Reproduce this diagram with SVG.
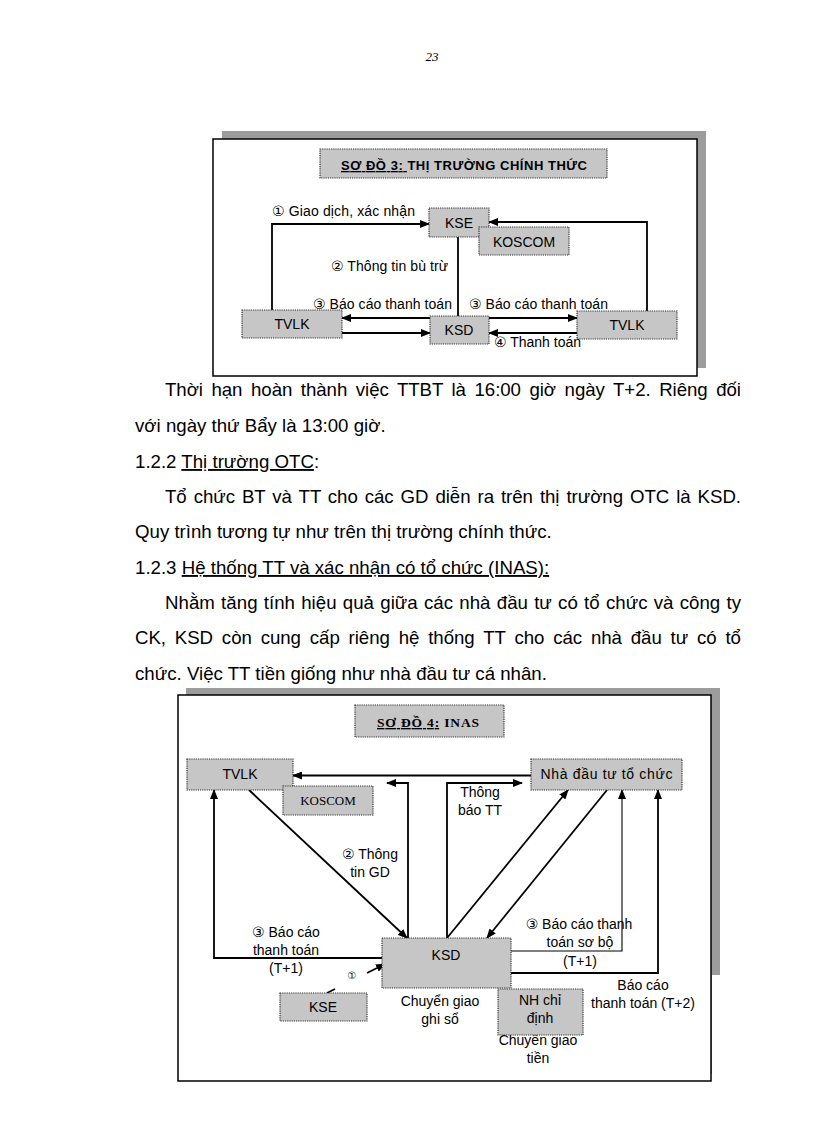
<svg xmlns="http://www.w3.org/2000/svg" width="816" height="1123" viewBox="0 0 816 1123">
<style>
.bg{fill:#ffffff}
.shadow{fill:#9c9c9c}
.frame{fill:#ffffff;stroke:#000;stroke-width:1.5}
.box{fill:#c6c6c6;stroke:#333;stroke-width:1.2;stroke-dasharray:1.2 1}
.t{font-family:"Liberation Sans","DejaVu Sans",Arial,sans-serif;fill:#000}
.lbl{font-size:14px}
.lbl2{font-size:14px}
.node{font-size:14px;text-anchor:middle}
.mid{text-anchor:middle}
.body{font-size:18.67px}
.ln{fill:none;stroke:#000;stroke-width:1.8}
.thin{fill:none;stroke:#000;stroke-width:1.1}
.serif{font-family:"Liberation Serif","Times New Roman",serif;fill:#000}
</style>
<defs>
<marker id="ah" markerWidth="10" markerHeight="8" refX="9" refY="4" orient="auto" markerUnits="userSpaceOnUse">
<path d="M0,0 L10,4 L0,8 z" fill="#000"/>
</marker>
</defs>
<rect class="bg" x="0" y="0" width="816" height="1123"/>

<text class="serif" x="432" y="61" font-size="13" font-style="italic" text-anchor="middle">23</text>

<!-- Diagram 1 -->
<g id="diagram1">
<rect class="shadow" x="222" y="131" width="484" height="237"/>
<rect class="frame" x="213" y="139" width="484" height="237"/>
<g id="title1">
<rect class="box" x="320" y="149" width="287" height="29"/>
<text class="t" x="341" y="170" font-size="13" font-weight="bold" textLength="246" lengthAdjust="spacing"><tspan text-decoration="underline">SƠ ĐỒ 3: </tspan>THỊ TRƯỜNG CHÍNH THỨC</text>
</g>
<g id="d1-connectors">
<polyline class="ln" points="272,310 272,224 429,224" marker-end="url(#ah)"/>
<polyline class="ln" points="647,311 647,222 489,222" marker-end="url(#ah)"/>
<line class="ln" x1="458" y1="237" x2="458" y2="316"/>
<line class="ln" x1="430" y1="318" x2="342" y2="318" marker-end="url(#ah)"/>
<line class="ln" x1="342" y1="333" x2="430" y2="333" marker-end="url(#ah)"/>
<line class="ln" x1="489" y1="318" x2="577" y2="318" marker-end="url(#ah)"/>
<line class="ln" x1="577" y1="333" x2="489" y2="333" marker-end="url(#ah)"/>
<text class="t lbl" x="272" y="216" textLength="143" lengthAdjust="spacing">① Giao dịch, xác nhận</text>
<text class="t lbl" x="331" y="271" textLength="117" lengthAdjust="spacing">② Thông tin bù trừ</text>
<text class="t lbl" x="313" y="309" textLength="139" lengthAdjust="spacing">③ Báo cáo thanh toán</text>
<text class="t lbl" x="469" y="309" textLength="139" lengthAdjust="spacing">③ Báo cáo thanh toán</text>
<text class="t lbl" x="494" y="347" textLength="87" lengthAdjust="spacing">④ Thanh toán</text>
</g>
<g id="d1-kse">
<rect class="box" x="429" y="208" width="60" height="29"/>
<text class="t node" x="459" y="228">KSE</text>
</g>
<g id="d1-koscom">
<rect class="box" x="479" y="227" width="90" height="28"/>
<text class="t node" x="524" y="247">KOSCOM</text>
</g>
<g id="d1-tvlk-left">
<rect class="box" x="242" y="310" width="100" height="28"/>
<text class="t node" x="292" y="329">TVLK</text>
</g>
<g id="d1-ksd">
<rect class="box" x="430" y="316" width="59" height="28"/>
<text class="t node" x="459" y="335">KSD</text>
</g>
<g id="d1-tvlk-right">
<rect class="box" x="577" y="311" width="100" height="28"/>
<text class="t node" x="627" y="330">TVLK</text>
</g>
</g>

<!-- Body text -->
<g id="body">
<text class="t body" x="165" y="396" word-spacing="3.4" textLength="576" lengthAdjust="spacing">Thời hạn hoàn thành việc TTBT là 16:00 giờ ngày T+2. Riêng đối</text>
<text class="t body" x="135" y="432">với ngày thứ Bẩy là 13:00 giờ.</text>
<text class="t body" x="135" y="468">1.2.2 <tspan text-decoration="underline">Thị trường OTC</tspan>:</text>
<text class="t body" x="165" y="503" word-spacing="1.8" textLength="576" lengthAdjust="spacing">Tổ chức BT và TT cho các GD diễn ra trên thị trường OTC là KSD.</text>
<text class="t body" x="135" y="538">Quy trình tương tự như trên thị trường chính thức.</text>
<text class="t body" x="135" y="574">1.2.3 <tspan text-decoration="underline">Hệ thống TT và xác nhận có tổ chức (INAS):</tspan></text>
<text class="t body" x="165" y="609" word-spacing="1.0" textLength="576" lengthAdjust="spacing">Nhằm tăng tính hiệu quả giữa các nhà đầu tư có tổ chức và công ty</text>
<text class="t body" x="135" y="644" word-spacing="3.7" textLength="606" lengthAdjust="spacing">CK, KSD còn cung cấp riêng hệ thống TT cho các nhà đầu tư có tổ</text>
<text class="t body" x="135" y="680">chức. Việc TT tiền giống như nhà đầu tư cá nhân.</text>
</g>

<!-- Diagram 2 -->
<g id="diagram2">
<rect class="shadow" x="186" y="688" width="534" height="386"/>
<rect class="bg" x="712" y="975" width="12" height="110"/>
<rect class="frame" x="178" y="695" width="533" height="386"/>
<g id="title2">
<rect class="box" x="355" y="705" width="149" height="32"/>
<text class="serif" x="377" y="727" font-size="13.5" font-weight="bold" textLength="102" lengthAdjust="spacing"><tspan text-decoration="underline">SƠ ĐỒ 4:</tspan>  INAS</text>
</g>
<g id="d2-connectors">
<line class="ln" x1="531" y1="775.5" x2="293" y2="775.5" marker-end="url(#ah)"/>
<polyline class="ln" points="408,938 408,783 387,783" marker-end="url(#ah)"/>
<polyline class="ln" points="447,938 447,783 522,783" marker-end="url(#ah)"/>
<line class="ln" x1="447" y1="938" x2="568" y2="790" marker-end="url(#ah)"/>
<line class="ln" x1="607" y1="790" x2="487" y2="938" marker-end="url(#ah)"/>
<polyline class="thin" points="511,951 622,951 622,790" marker-end="url(#ah)"/>
<polyline class="ln" points="511,973 658,973 658,790" marker-end="url(#ah)"/>
<polyline class="ln" points="382,958 214,958 214,790" marker-end="url(#ah)"/>
<line class="ln" x1="249" y1="790" x2="407" y2="938" marker-end="url(#ah)"/>
<line class="ln" x1="327" y1="993" x2="335" y2="989"/>
<line class="ln" x1="367" y1="973" x2="385" y2="964" marker-end="url(#ah)"/>
<text class="t lbl2 mid" x="480" y="797">Thông</text>
<text class="t lbl2 mid" x="480" y="815">báo TT</text>
<text class="t lbl2 mid" x="370" y="859">② Thông</text>
<text class="t lbl2 mid" x="370" y="877">tin GD</text>
<text class="t lbl2 mid" x="286" y="937">③ Báo cáo</text>
<text class="t lbl2 mid" x="286" y="955">thanh toán</text>
<text class="t lbl2 mid" x="286" y="973">(T+1)</text>
<text class="t mid" x="352" y="979" font-size="10">①</text>
<text class="t lbl2 mid" x="579" y="929">③ Báo cáo thanh</text>
<text class="t lbl2 mid" x="580" y="947">toán sơ bộ</text>
<text class="t lbl2 mid" x="580" y="966">(T+1)</text>
<text class="t lbl2 mid" x="643" y="990">Báo cáo</text>
<text class="t lbl2 mid" x="643" y="1008">thanh toán (T+2)</text>
<text class="t lbl2 mid" x="440" y="1006">Chuyển giao</text>
<text class="t lbl2 mid" x="440" y="1024">ghi sổ</text>
<text class="t lbl2 mid" x="538" y="1045">Chuyển giao</text>
<text class="t lbl2 mid" x="538" y="1063">tiền</text>
</g>
<g id="d2-tvlk">
<rect class="box" x="187" y="759" width="106" height="31"/>
<text class="t node" x="240" y="779">TVLK</text>
</g>
<g id="d2-koscom">
<rect class="box" x="283" y="786" width="90" height="29"/>
<text class="serif" x="328" y="805" font-size="13" text-anchor="middle">KOSCOM</text>
</g>
<g id="d2-nhadautu">
<rect class="box" x="531" y="759" width="151" height="31"/>
<text class="t node" x="606.5" y="779" textLength="132" lengthAdjust="spacing">Nhà đầu tư tổ chức</text>
</g>
<g id="d2-ksd">
<rect class="box" x="382" y="938" width="129" height="50"/>
<text class="t node" x="446" y="960">KSD</text>
</g>
<g id="d2-kse">
<rect class="box" x="280" y="993" width="87" height="28"/>
<text class="t node" x="323" y="1012">KSE</text>
</g>
<g id="d2-nh">
<rect class="box" x="498" y="989" width="85" height="46"/>
<text class="t lbl2 mid" x="540" y="1005">NH chỉ</text>
<text class="t lbl2 mid" x="540" y="1023">định</text>
</g>
</g>
</svg>
